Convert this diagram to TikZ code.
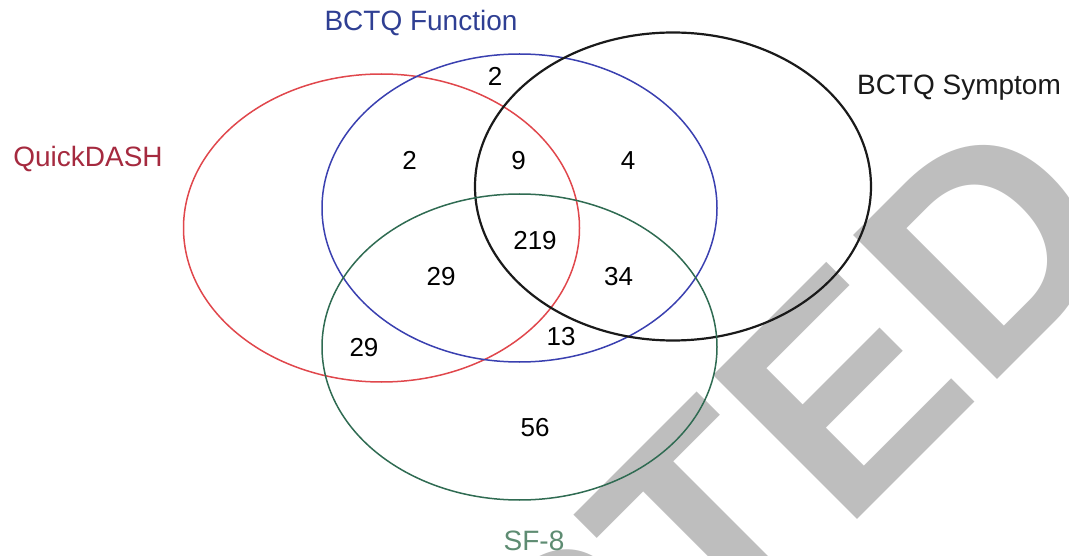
\documentclass[tikz,border=0pt]{standalone}
\usepackage{fontspec}
\setmainfont{Liberation Sans}
\usepackage{xcolor}
\definecolor{quick}{HTML}{E0474C}
\definecolor{quicktext}{HTML}{A52A3F}
\definecolor{func}{HTML}{3A40B0}
\definecolor{functext}{HTML}{2F3F93}
\definecolor{symp}{HTML}{1A1A1A}
\definecolor{sfeight}{HTML}{2F6B52}
\definecolor{sfeighttext}{HTML}{5E8C72}
\definecolor{stamp}{HTML}{BEBEBE}

\begin{document}
\begin{tikzpicture}[x=1pt,y=-1pt,
		num/.style={font=\fontsize{26}{26}\selectfont,inner sep=0pt},
		lbl/.style={font=\fontsize{28}{28}\selectfont,inner sep=0pt,anchor=base}]
		\useasboundingbox (0,0) rectangle (1069,556);
		\clip (0,0) rectangle (1069,556);
		%stamp
		\node[stamp,font=\fontsize{296}{296}\selectfont\bfseries,inner sep=0pt,anchor=base east,rotate=45] (stampword) at (1134.5,242.5) {ACCEPTED};
		%sets
		\draw[quick,line width=1.5pt] (381.5,228) ellipse (198pt and 154pt);
		\draw[func,line width=1.5pt] (519.5,208) ellipse (197.5pt and 154pt);
		\draw[symp,line width=2.2pt] (673,186.5) ellipse (198pt and 154pt);
		\draw[sfeight,line width=1.5pt] (519.5,347) ellipse (197.5pt and 153pt);
		%names
		\node[lbl,quicktext] (quickname) at (88,167) {QuickDASH};
		\node[lbl,functext] (funcname) at (421,30.7) {BCTQ Function};
		\node[lbl,symp] (sympname) at (959,95) {BCTQ Symptom};
		\node[lbl,sfeighttext] (sfname) at (534,550) {SF-8};
		%counts
		\node[num] (ftop) at (495,76) {2};
		\node[num] (qf) at (409.5,160.5) {2};
		\node[num] (qfs) at (518.5,160.5) {9};
		\node[num] (fs) at (628,160.5) {4};
		\node[num] (all) at (535,241) {219};
		\node[num] (qfe) at (441,277) {29};
		\node[num] (fse) at (618.5,277) {34};
		\node[num] (qfse) at (561,337) {13};
		\node[num] (qe) at (364,347.5) {29};
		\node[num] (eonly) at (535,427.5) {56};
	\end{tikzpicture}
\end{document}
